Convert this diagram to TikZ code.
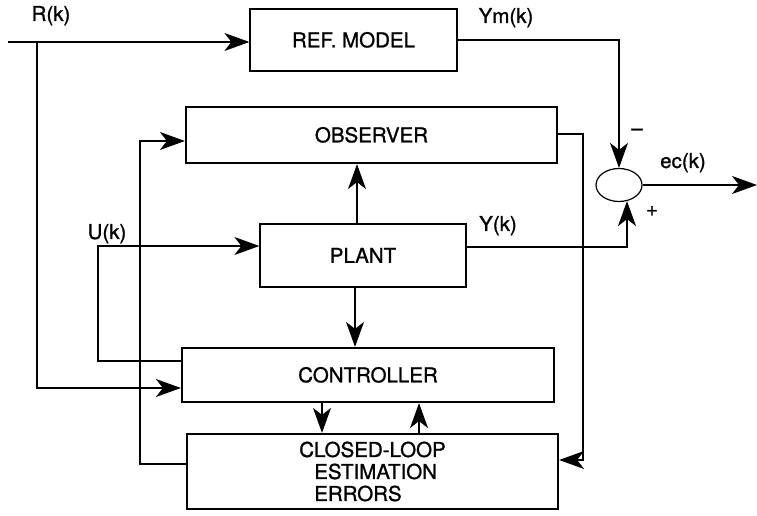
\documentclass[tikz,border=0pt]{standalone}
\usepackage{fontspec}
\setmainfont{TeX Gyre Heros}[FakeBold=1.1]
\usetikzlibrary{arrows.meta,shapes.geometric,calc}
\begin{document}
\begin{tikzpicture}[x=1bp,y=-1bp,
  every node/.style={font=\fontsize{20.5bp}{22bp}\selectfont, inner sep=0pt},
  conn/.style={line width=1.2bp},
  arr/.style={conn,-{Stealth[length=25bp,width=18bp,inset=7bp]}},
  thinbox/.style={draw,line width=1.2bp,text height=14.7bp,text depth=0pt},
  thickbox/.style={draw,line width=2.2bp,text height=14.7bp,text depth=0pt},
  multibox/.style={draw,line width=2.2bp,align=left},
  lbl/.style={anchor=base},
  sumnode/.style={draw,ellipse,line width=1.2bp,minimum width=46bp,minimum height=33bp}
]
\useasboundingbox (0,0) rectangle (757,516);

\node[thinbox, minimum width=207bp, minimum height=62bp] (ref) at (353.5,40) {REF. MODEL};
\node[thickbox, minimum width=371bp, minimum height=56bp] (obs) at (371.5,135) {OBSERVER};
\node[thinbox, minimum width=206bp, minimum height=63bp] (plant) at (363,255.5) {PLANT};
\node[thickbox, minimum width=372bp, minimum height=54bp] (ctrl) at (368,375) {CONTROLLER};
\node[multibox, minimum width=371bp, minimum height=75bp] (cle) at (372.5,471.5) {CLOSED-LOOP\\\hspace*{15bp}ESTIMATION\\\hspace*{15bp}ERRORS};
\node[sumnode] (sum) at (619,185) {};

\node[lbl] (rk) at (51,21) {R(k)};
\node[lbl] (ymk) at (506,23) {Ym(k)};
\node[lbl] (eck) at (683,168) {ec(k)};
\node[lbl] (yk) at (498,231) {Y(k)};
\node[lbl] (uk) at (107,239) {U(k)};
\node (minus) at (637,132) {\textendash};
\node (plus) at (652,211) {+};

\coordinate (rin) at (8,42);
\coordinate (rj) at (37,42);
\coordinate (out) at (757,185);
\coordinate (ocorner) at (583,460);
\coordinate (ucorner) at (98,246);
\coordinate (lcorner) at (140,141);

\draw[arr] (rin) -- (ref.west |- rin);
\draw[arr] (rj) |- (ctrl.west |- 0,388);
\draw[arr] (ref.east |- 0,40) -| (sum.north);
\draw[arr] (sum.east) -- (out);
\draw[arr] (plant.east |- 0,247) -| ($(sum.south)+(8,-1)$);
\draw[arr] (obs.east |- 0,134) -| (ocorner) -- (cle.east |- ocorner);
\draw[arr] (plant.north -| 357,0) -- (obs.south -| 357,0);
\draw[arr] (plant.south -| 355,0) -- (ctrl.north -| 355,0);
\draw[arr] (ctrl.west |- 0,361) -| (ucorner) -- (plant.west |- ucorner);
\draw[arr] (cle.west |- 0,464) -| (lcorner) -- (obs.west |- lcorner);
\draw[arr] (ctrl.south -| 322,0) -- (cle.north -| 322,0);
\draw[arr] (cle.north -| 419,0) -- (ctrl.south -| 419,0);
\end{tikzpicture}
\end{document}
